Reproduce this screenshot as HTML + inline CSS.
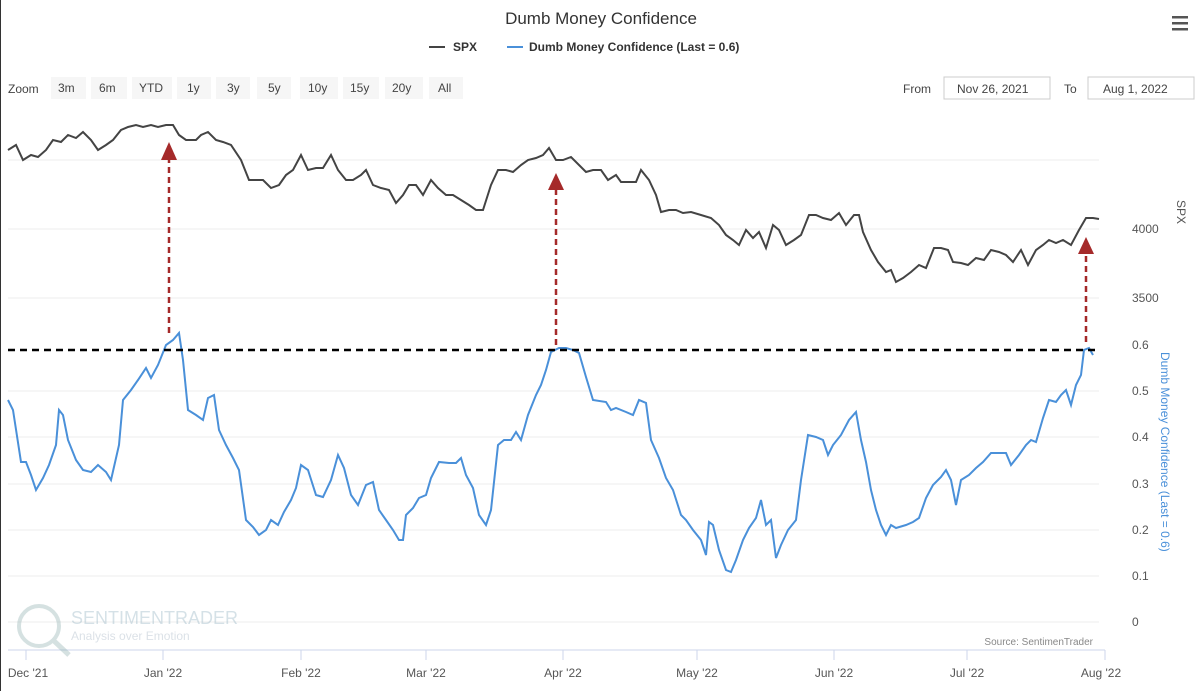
<!DOCTYPE html>
<html><head><meta charset="utf-8"><style>
body{margin:0;background:#fff;font-family:"Liberation Sans",sans-serif;}
.wrap{position:relative;width:1200px;height:691px;overflow:hidden;border-left:1px solid #333;box-sizing:border-box}
</style></head><body><div class="wrap">
<svg width="1200" height="691" style="position:absolute;left:0;top:0" font-family="Liberation Sans, sans-serif">
<text x="600" y="24" text-anchor="middle" font-size="17" fill="#333">Dumb Money Confidence</text>
<g font-size="12" font-weight="bold" fill="#333">
<line x1="428" y1="47" x2="444" y2="47" stroke="#444" stroke-width="2"/><text x="452" y="51">SPX</text>
<line x1="506" y1="47" x2="522" y2="47" stroke="#4a90d9" stroke-width="2"/><text x="528" y="51">Dumb Money Confidence (Last = 0.6)</text>
</g>
<g fill="#555"><rect x="1171" y="16" width="16" height="2.5"/><rect x="1171" y="22" width="16" height="2.5"/><rect x="1171" y="28" width="16" height="2.5"/></g>
<g font-size="12" fill="#444">
<text x="7" y="93">Zoom</text>
<g fill="#f6f6f6"><rect x="50" y="77" width="35" height="22"/><rect x="90" y="77" width="36" height="22"/><rect x="131" y="77" width="40" height="22"/><rect x="176" y="77" width="34" height="22"/><rect x="215" y="77" width="34" height="22"/><rect x="256" y="77" width="34" height="22"/><rect x="299" y="77" width="38" height="22"/><rect x="342" y="77" width="36" height="22"/><rect x="384" y="77" width="38" height="22"/><rect x="428" y="77" width="34" height="22"/></g>
<text x="57" y="92">3m</text><text x="98" y="92">6m</text><text x="138" y="92">YTD</text><text x="186" y="92">1y</text><text x="226" y="92">3y</text><text x="267" y="92">5y</text><text x="307" y="92">10y</text><text x="349" y="92">15y</text><text x="391" y="92">20y</text><text x="437" y="92">All</text>
<text x="902" y="93">From</text>
<rect x="943" y="77" width="106" height="22" fill="#fff" stroke="#ccc"/><text x="956" y="93">Nov 26, 2021</text>
<text x="1063" y="93">To</text>
<rect x="1087" y="77" width="106" height="22" fill="#fff" stroke="#ccc"/><text x="1102" y="93">Aug 1, 2022</text>
</g>
<g stroke="#eee" stroke-width="1">
<line x1="7" y1="160" x2="1098" y2="160"/><line x1="7" y1="229" x2="1098" y2="229"/><line x1="7" y1="298" x2="1098" y2="298"/>
<line x1="7" y1="391" x2="1098" y2="391"/><line x1="7" y1="437" x2="1098" y2="437"/><line x1="7" y1="484" x2="1098" y2="484"/><line x1="7" y1="530" x2="1098" y2="530"/><line x1="7" y1="576" x2="1098" y2="576"/><line x1="7" y1="622" x2="1098" y2="622"/>
</g>
<line x1="7" y1="650" x2="1104" y2="650" stroke="#ccd6eb"/>
<g stroke="#ccd6eb"><line x1="25" y1="650" x2="25" y2="660"/><line x1="162" y1="650" x2="162" y2="660"/><line x1="300" y1="650" x2="300" y2="660"/><line x1="425" y1="650" x2="425" y2="660"/><line x1="562" y1="650" x2="562" y2="660"/><line x1="696" y1="650" x2="696" y2="660"/><line x1="833" y1="650" x2="833" y2="660"/><line x1="966" y1="650" x2="966" y2="660"/><line x1="1104" y1="650" x2="1104" y2="660"/></g>
<g font-size="12" fill="#555" text-anchor="middle">
<text x="27" y="677">Dec '21</text><text x="162" y="677">Jan '22</text><text x="300" y="677">Feb '22</text><text x="425" y="677">Mar '22</text><text x="562" y="677">Apr '22</text><text x="696" y="677">May '22</text><text x="833" y="677">Jun '22</text><text x="966" y="677">Jul '22</text><text x="1100" y="677">Aug '22</text>
</g>
<g font-size="12" fill="#555">
<text x="1131" y="233">4000</text><text x="1131" y="302">3500</text>
<text x="1131" y="349">0.6</text><text x="1131" y="395">0.5</text><text x="1131" y="441">0.4</text><text x="1131" y="488">0.3</text><text x="1131" y="534">0.2</text><text x="1131" y="580">0.1</text><text x="1131" y="626">0</text>
<text transform="translate(1176,200) rotate(90)" font-size="12">SPX</text>
<text transform="translate(1160,352) rotate(90)" font-size="12" fill="#4a90d9">Dumb Money Confidence (Last = 0.6)</text>
</g>
<g opacity="0.35"><circle cx="38" cy="626" r="20" fill="none" stroke="#8aa" stroke-width="4"/><line x1="52" y1="640" x2="68" y2="655" stroke="#8aa" stroke-width="5"/>
<text x="70" y="624" font-size="18" fill="#8ab">SENTIMENTRADER</text><text x="70" y="640" font-size="12" fill="#9ab">Analysis over Emotion</text></g>
<text x="1092" y="645" font-size="10" fill="#888" text-anchor="end">Source: SentimenTrader</text>
<polyline fill="none" stroke="#444" stroke-width="2" points="7,150 15,145 22,160 30,155 37,157 45,150 52,140 60,142 67,135 75,138 82,132 90,140 97,150 105,145 112,140 120,130 127,127 135,125 142,127 150,125 157,127 165,125 172,125 178,135 185,140 195,140 200,135 207,132 215,140 222,142 230,145 240,160 248,180 255,180 262,180 270,188 278,185 285,175 292,170 300,155 307,170 315,168 322,168 330,155 337,170 345,180 352,180 360,175 365,170 372,185 380,188 388,190 395,203 402,195 408,185 415,185 422,195 430,180 437,188 445,195 452,195 460,200 468,205 475,210 482,210 490,185 497,170 505,170 512,172 520,165 527,160 535,158 542,155 548,148 555,160 562,160 570,157 578,165 585,172 592,170 600,170 607,180 615,175 620,182 628,182 635,182 640,170 648,180 655,195 660,212 668,210 675,210 682,213 690,212 700,215 710,218 718,225 725,235 732,240 738,245 745,230 752,238 758,232 765,248 772,225 778,230 785,245 793,240 800,235 808,215 815,215 822,218 830,220 838,213 845,225 853,215 858,215 862,232 870,250 877,262 885,272 890,270 895,282 902,278 910,272 918,265 925,268 933,248 940,248 947,250 952,262 960,263 967,265 975,258 983,260 990,250 998,252 1005,255 1012,262 1020,250 1027,265 1035,250 1042,245 1048,240 1055,243 1062,240 1070,245 1078,230 1085,218 1092,218 1098,219"/>
<polyline fill="none" stroke="#4a90d9" stroke-width="2" points="7,400 12,410 20,462 25,462 30,475 35,490 42,478 48,465 55,445 58,410 62,415 67,440 75,460 82,470 90,472 97,465 105,472 110,480 118,445 122,400 130,390 137,380 145,368 150,378 157,365 165,345 172,340 178,333 182,360 187,410 195,415 202,420 207,398 213,395 218,430 225,445 232,458 238,470 245,520 252,527 258,535 265,530 270,520 277,525 283,512 290,500 295,488 300,465 307,470 315,495 322,497 330,480 337,455 343,468 350,495 357,505 365,485 372,482 378,510 385,520 392,530 398,540 402,540 405,515 412,508 418,498 425,495 430,478 438,462 448,463 455,463 460,458 465,475 472,488 478,515 485,525 490,510 497,445 503,440 510,440 515,432 520,440 527,415 535,395 540,385 545,370 550,352 558,348 565,348 572,350 578,353 585,377 592,400 605,402 610,410 615,408 625,412 632,415 638,400 645,403 650,440 658,458 665,478 672,490 680,515 685,520 692,530 700,540 705,555 708,522 712,525 718,550 725,570 730,572 735,560 742,540 748,528 755,518 760,500 765,525 770,520 775,558 780,545 787,530 795,520 800,480 807,435 815,437 822,440 827,455 832,445 840,435 848,420 855,412 860,440 865,462 870,490 875,510 880,525 885,535 890,525 895,528 905,525 912,522 918,518 925,498 932,485 940,477 945,470 950,480 955,505 960,480 968,475 975,468 982,462 990,453 998,453 1005,453 1010,465 1018,455 1025,445 1030,440 1035,442 1042,418 1048,400 1055,402 1060,395 1065,390 1070,405 1075,385 1080,375 1083,350 1088,348 1092,355"/>
<line x1="7" y1="350" x2="1098" y2="350" stroke="#000" stroke-width="2.5" stroke-dasharray="7,5"/>
<g stroke="#a52a2a" stroke-width="2.5" stroke-dasharray="6,4">
<line x1="168" y1="333" x2="168" y2="158"/><line x1="555" y1="345" x2="555" y2="188"/><line x1="1085" y1="342" x2="1085" y2="252"/></g>
<g fill="#a52a2a"><polygon points="160,160 176,160 168,142"/><polygon points="547,190 563,190 555,173"/><polygon points="1077,254 1093,254 1085,237"/></g>
</svg></div></body></html>
